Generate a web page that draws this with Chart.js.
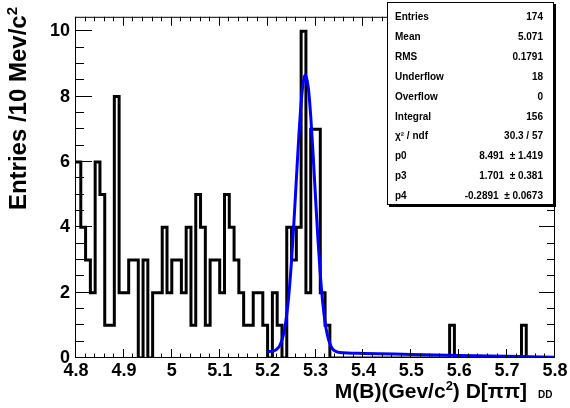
<!DOCTYPE html>
<html>
<head>
<meta charset="utf-8">
<title>M(B) D[pipi] DD</title>
<script src="https://cdn.jsdelivr.net/npm/chart.js@4.4.0/dist/chart.umd.min.js"></script>
<style>
  html, body { margin: 0; padding: 0; background: #fff; overflow: hidden; }
  #wrap { position: relative; width: 570px; height: 408px; }
  #stats {
    position: absolute; left: 387px; top: 2px; width: 165px; height: 201px;
    border: 1px solid #000; background: #fff; box-shadow: 2px 2px 0 #000;
    font: bold 10px "Liberation Sans", Arial, sans-serif; color: #000;
  }
  #stats .row { position: absolute; left: 7px; right: 10px; height: 20px; line-height: 20px; }
  #stats .row .v { position: absolute; right: 0; top: 0; white-space: pre; }
</style>
</head>
<body>
<div id="wrap">
  <canvas id="hist" width="570" height="408"></canvas>
  <div id="stats"></div>
</div>
<script>
// histogram: 10 MeV bins from 4.8 to 5.8
const xMin = 4.8;
const xMax = 5.8;
const binWidth = 0.01;
const yMax = 10.44;

const counts = [
  6, 4, 3, 2, 6, 5, 1, 1, 8, 2,
  2, 3, 3, 0, 3, 0, 2, 2, 4, 2,
  3, 3, 2, 4, 1, 5, 4, 1, 3, 3,
  2, 5, 4, 3, 2, 1, 1, 2, 2, 1,
  0, 2, 1, 0, 4, 3, 4, 10, 2, 7,
  7, 2, 1, 0, 0, 0, 0, 0, 0, 0,
  0, 0, 0, 0, 0, 0, 0, 0, 0, 0,
  0, 0, 0, 0, 0, 0, 0, 0, 1, 0,
  0, 0, 0, 0, 0, 0, 0, 0, 0, 0,
  0, 0, 0, 1, 0, 0, 0, 0, 0, 0
];

// fit curve
const fitX = [5.20, 5.21, 5.215, 5.22, 5.225, 5.23, 5.235, 5.24, 5.245, 5.25,
              5.255, 5.26, 5.265, 5.27, 5.275, 5.279, 5.285, 5.29, 5.295, 5.30,
              5.305, 5.31, 5.315, 5.32, 5.325, 5.33, 5.335, 5.34, 5.35, 5.40,
              5.50, 5.60, 5.70, 5.80];
const fitY = [0.20, 0.21, 0.23, 0.28, 0.37, 0.55, 0.85, 1.34, 2.04, 2.99,
              4.16, 5.46, 6.74, 7.81, 8.49, 8.67, 8.27, 7.41, 6.23, 4.92,
              3.66, 2.57, 1.71, 1.09, 0.69, 0.44, 0.29, 0.22, 0.17, 0.14,
              0.11, 0.08, 0.05, 0.02];

const statNames = ["Entries", "Mean", "RMS", "Underflow", "Overflow", "Integral",
                   "\u03c7\u00b2 / ndf", "p0", "p3", "p4"];
const statValues = ["174", "5.071", "0.1791", "18", "0", "156", "30.3 / 57",
                    "8.491  \u00b1 1.419", "1.701  \u00b1 0.381", "-0.2891  \u00b1 0.0673"];

const yTitle = "Entries /10 Mev/c";
const xTitle = ["M(B)(Gev/c", ") D[\u03c0\u03c0]"];
const xTitleSub = "DD";

const FONT = '"Liberation Sans", Arial, Helvetica, sans-serif';

const histPoints = counts.map((c, i) => ({ x: xMin + i * binWidth, y: c }));
histPoints.push({ x: xMax, y: 0 });
const fitPoints = fitX.map((x, i) => ({ x: x, y: fitY[i] }));

// ROOT style frame, inward ticks and axis titles
const rootFrame = {
  id: "rootFrame",
  afterDatasetsDraw(chart) {
    const { ctx, chartArea: a } = chart;
    const x = chart.scales.x, y = chart.scales.y;
    ctx.save();
    ctx.strokeStyle = "#000";
    ctx.lineWidth = 1;
    ctx.strokeRect(a.left - 0.5, a.top + 0.5, a.right - a.left, a.bottom - a.top - 1);
    ctx.beginPath();
    for (let k = 0; k <= 50; k++) {
      const px = Math.round(x.getPixelForValue(xMin + k * 0.02)) - 0.5;
      const len = k % 5 === 0 ? 9 : 4.5;
      ctx.moveTo(px, a.bottom); ctx.lineTo(px, a.bottom - len);
      ctx.moveTo(px, a.top); ctx.lineTo(px, a.top + len);
    }
    for (let k = 0; k <= 20; k++) {
      const py = Math.round(y.getPixelForValue(k * 0.5)) - 0.5;
      const len = k % 4 === 0 ? 16 : 8;
      ctx.moveTo(a.left, py); ctx.lineTo(a.left + len, py);
      ctx.moveTo(a.right, py); ctx.lineTo(a.right - len, py);
    }
    ctx.stroke();
    ctx.restore();
  },
  afterDraw(chart) {
    const ctx = chart.ctx;
    ctx.save();
    ctx.fillStyle = "#000";
    ctx.textBaseline = "alphabetic";

    // x title, right aligned, with superscript 2
    const big = "bold 21px " + FONT, sup = "bold 13px " + FONT;
    ctx.font = big;
    const w0 = ctx.measureText(xTitle[0]).width;
    const w2 = ctx.measureText(xTitle[1]).width;
    ctx.font = sup;
    const w1 = ctx.measureText("2").width;
    let tx = 527 - (w0 + w1 + w2);
    const base = 398;
    ctx.font = big; ctx.fillText(xTitle[0], tx, base); tx += w0;
    ctx.font = sup; ctx.fillText("2", tx, base - 8); tx += w1;
    ctx.font = big; ctx.fillText(xTitle[1], tx, base);
    ctx.font = "bold 10px " + FONT;
    ctx.fillText(xTitleSub, 538, base);

    // y title, rotated, ending at the top
    const yBig = "bold 24px " + FONT, ySup = "bold 15px " + FONT;
    ctx.translate(26, 7);
    ctx.rotate(-Math.PI / 2);
    ctx.font = ySup;
    const s1 = ctx.measureText("2").width;
    ctx.textAlign = "right";
    ctx.fillText("2", 0, -9);
    ctx.font = yBig;
    ctx.fillText(yTitle, -s1, 0);
    ctx.restore();
  }
};

new Chart(document.getElementById("hist").getContext("2d"), {
  type: "line",
  data: {
    datasets: [
      {
        label: "fit",
        data: fitPoints,
        borderColor: "rgb(0, 0, 255)",
        borderWidth: 3,
        pointRadius: 0,
        cubicInterpolationMode: "monotone",
        fill: false,
        order: 0,
      },
      {
        label: "hist",
        data: histPoints,
        borderColor: "#000",
        borderWidth: 3,
        pointRadius: 0,
        stepped: true,
        fill: false,
        order: 1,
      },
    ],
  },
  options: {
    responsive: false,
    animation: false,
    devicePixelRatio: 1,
    layout: { padding: { left: 0, right: 15, top: 9, bottom: 0 } },
    plugins: { legend: { display: false }, tooltip: { enabled: false } },
    scales: {
      x: {
        type: "linear",
        min: xMin,
        max: xMax,
        grid: { display: false, drawTicks: false },
        border: { display: false },
        ticks: {
          stepSize: 0.1,
          includeBounds: false,
          autoSkip: false,
          maxRotation: 0,
          padding: 2,
          color: "#000",
          font: { family: FONT, size: 18, weight: "bold" },
          callback: (v) => String(Math.round(v * 10) / 10),
        },
        afterFit: (s) => { s.height = 50; },
      },
      y: {
        min: 0,
        max: yMax,
        grid: { display: false, drawTicks: false },
        border: { display: false },
        ticks: {
          stepSize: 2,
          includeBounds: false,
          padding: 6,
          color: "#000",
          font: { family: FONT, size: 18, weight: "bold" },
        },
        afterFit: (s) => { s.width = 76; },
      },
    },
  },
  plugins: [rootFrame],
});

// stats box
const stats = document.getElementById("stats");
statNames.forEach((name, i) => {
  const row = document.createElement("div");
  row.className = "row";
  row.style.top = (4 + i * 19.9) + "px";
  const n = document.createElement("span");
  n.textContent = name;
  const v = document.createElement("span");
  v.className = "v";
  v.textContent = statValues[i];
  row.appendChild(n);
  row.appendChild(v);
  stats.appendChild(row);
});
</script>
</body>
</html>
